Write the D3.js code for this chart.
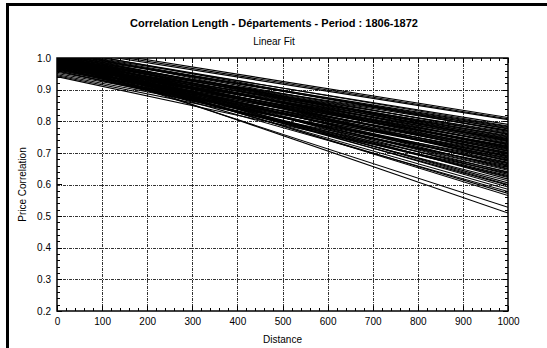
<!DOCTYPE html>
<html><head><meta charset="utf-8">
<script src="https://cdn.jsdelivr.net/npm/d3@7/dist/d3.min.js"></script>
<style>
body{margin:0;background:#fff}
svg{display:block}
text{font-family:"Liberation Sans",Arial,Helvetica,sans-serif;fill:#000}
</style>
</head><body>
<svg id="chart" width="547" height="348"></svg>
<script>
// Linear fits: value at distance 0 and at distance 1000
const intercepts = [1.040,1.035,1.030,1.020,1.025,1.010,1.015,1.000,1.028,0.995,
  1.005,1.018,0.990,1.008,0.985,1.012,0.998,0.980,1.022,0.992,
  1.003,0.975,0.988,1.015,0.970,0.996,0.982,1.006,0.968,0.990,
  0.978,1.010,0.965,0.986,0.955,1.000,0.972,0.951,0.994,0.962,
  0.983,0.947,1.004,0.975,0.958,0.990,0.944,0.968,1.000,0.980,
  0.960,0.941,0.993,0.970,0.985,1.008,0.976,0.995,0.988,1.002,
  0.982,0.998,1.005,0.990,1.000,
  1.012,0.997,1.020,0.987,1.002,0.979,1.010,0.993,0.984,1.000,
  0.973,0.991,0.966,0.981,1.006,0.963,0.987,0.977,0.996,0.967,
  1.003,0.989];
const endValues = [0.812,0.808,0.805,0.790,0.785,0.780,0.776,0.772,0.768,0.765,
  0.762,0.758,0.755,0.752,0.748,0.745,0.742,0.740,0.737,0.735,
  0.732,0.730,0.727,0.725,0.722,0.720,0.717,0.715,0.712,0.710,
  0.707,0.705,0.702,0.700,0.697,0.695,0.692,0.690,0.687,0.684,
  0.680,0.677,0.674,0.670,0.666,0.662,0.658,0.654,0.650,0.645,
  0.640,0.636,0.632,0.628,0.622,0.617,0.612,0.605,0.598,0.592,
  0.578,0.572,0.565,0.528,0.510,
  0.783,0.778,0.770,0.760,0.750,0.744,0.738,0.728,0.719,0.713,
  0.706,0.698,0.689,0.682,0.676,0.668,0.660,0.648,0.638,0.625,
  0.600,0.585];
const xTicks = [0,100,200,300,400,500,600,700,800,900,1000];
const yTicks = [0.2,0.3,0.4,0.5,0.6,0.7,0.8,0.9,1.0];
const xDomain = [0,1000];
const yDomain = [0.2,1.0];
const distances = [0,1000];

const svg = d3.select("#chart");
const W = 547, H = 348;
const m = {left:57, right:508, top:58, bottom:311};

const x = d3.scaleLinear().domain(xDomain).range([m.left, m.right]);
const y = d3.scaleLinear().domain(yDomain).range([m.bottom, m.top]);

// outer window border (top & left)
svg.append("line").attr("x1",7).attr("x2",W).attr("y1",4.5).attr("y2",4.5)
  .attr("stroke","#000").attr("stroke-width",3);
svg.append("line").attr("x1",7.5).attr("x2",7.5).attr("y1",3).attr("y2",H)
  .attr("stroke","#000").attr("stroke-width",3);

// titles
svg.append("text").attr("x",274).attr("y",27).attr("text-anchor","middle")
  .style("font-size","11px").style("font-weight","bold")
  .text("Correlation Length - Départements - Period : 1806-1872");
svg.append("text").attr("x",274).attr("y",45).attr("text-anchor","middle")
  .style("font-size","10px").text("Linear Fit");

// grid
const grid = svg.append("g").attr("stroke","#333").attr("stroke-width",1)
  .attr("stroke-dasharray","3,1,1,1").attr("shape-rendering","crispEdges");
xTicks.slice(1,-1).forEach(t=>{
  grid.append("line").attr("x1",Math.round(x(t))+0.5).attr("x2",Math.round(x(t))+0.5)
    .attr("y1",m.top).attr("y2",m.bottom);
});
yTicks.slice(1,-1).forEach(t=>{
  grid.append("line").attr("y1",Math.round(y(t))+0.5).attr("y2",Math.round(y(t))+0.5)
    .attr("x1",m.left).attr("x2",m.right);
});

// clip & lines
svg.append("clipPath").attr("id","clip").append("rect")
  .attr("x",m.left).attr("y",m.top).attr("width",m.right-m.left).attr("height",m.bottom-m.top);
const line = d3.line().x(d=>x(d[0])).y(d=>y(d[1]));
svg.append("g").attr("clip-path","url(#clip)")
  .selectAll("path").data(intercepts.map((a,i)=>[[distances[0],a],[distances[1],endValues[i]]]))
  .join("path").attr("d",line).attr("fill","none").attr("stroke","#000").attr("stroke-width",1.1);

// axes with labels
const xAxis = svg.append("g").attr("transform",`translate(0,${m.bottom})`)
  .call(d3.axisBottom(x).tickValues(xTicks).tickSize(0).tickPadding(7).tickFormat(d3.format("d")));
xAxis.select(".domain").remove();
xAxis.selectAll("text").style("font-size","10px");
const yAxis = svg.append("g").attr("transform",`translate(${m.left},0)`)
  .call(d3.axisLeft(y).tickValues(yTicks).tickSize(0).tickPadding(6).tickFormat(d3.format(".1f")));
yAxis.select(".domain").remove();
yAxis.selectAll("text").style("font-size","10px");

// minor/major inside ticks on all sides
const tk = svg.append("g").attr("stroke","#000").attr("stroke-width",1).attr("shape-rendering","crispEdges");
const xMinor = d3.range(0,1001,20), yMinor = d3.range(0.2,1.0001,0.02);
xMinor.forEach(t=>{
  const L = (t%100===0)?5:3, px=Math.round(x(t))+0.5;
  tk.append("line").attr("x1",px).attr("x2",px).attr("y1",m.bottom).attr("y2",m.bottom-L);
  tk.append("line").attr("x1",px).attr("x2",px).attr("y1",m.top).attr("y2",m.top+L);
});
yMinor.forEach((t,i)=>{
  const L = (i%5===0)?5:3, py=Math.round(y(t))+0.5;
  tk.append("line").attr("y1",py).attr("y2",py).attr("x1",m.left).attr("x2",m.left+L);
  tk.append("line").attr("y1",py).attr("y2",py).attr("x1",m.right).attr("x2",m.right-L);
});

// frame
svg.append("rect").attr("x",m.left).attr("y",m.top).attr("width",m.right-m.left).attr("height",m.bottom-m.top)
  .attr("fill","none").attr("stroke","#000").attr("stroke-width",1.5);

// axis titles
svg.append("text").attr("x",(m.left+m.right)/2).attr("y",343).attr("text-anchor","middle")
  .style("font-size","10px").text("Distance");
svg.append("text").attr("transform",`translate(26,${(m.top+m.bottom)/2}) rotate(-90)`)
  .attr("text-anchor","middle").style("font-size","10px").text("Price Correlation");
</script>
</body></html>
